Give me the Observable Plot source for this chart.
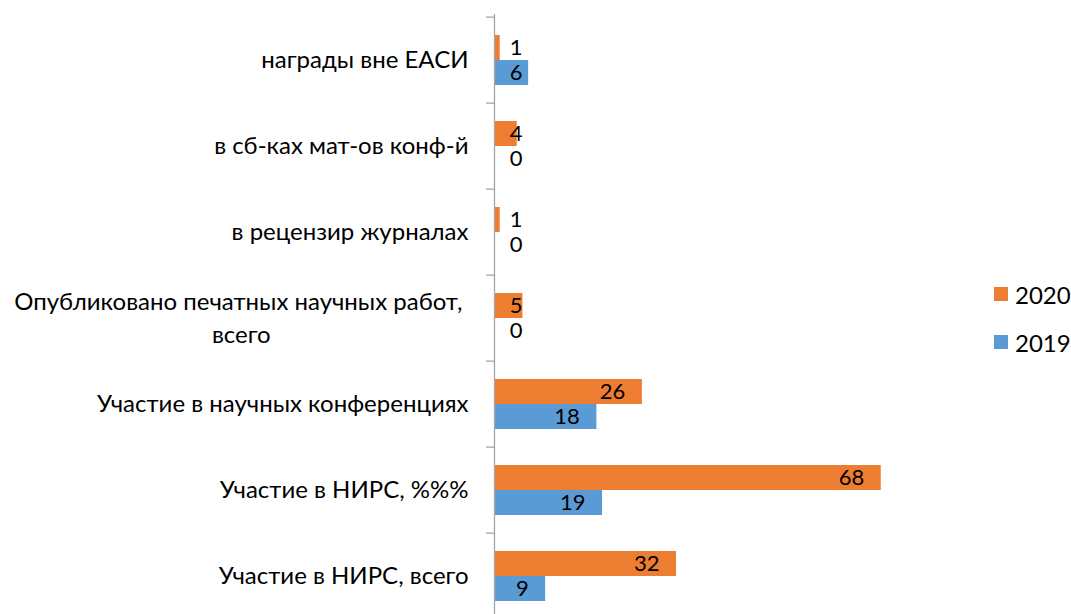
<!DOCTYPE html>
<html>
<head>
<meta charset="utf-8">
<script src="https://cdn.jsdelivr.net/npm/d3@7"></script>
<script src="https://cdn.jsdelivr.net/npm/@observablehq/plot@0.6"></script>
<style>
  html, body { margin: 0; padding: 0; background: #fff; }
  #wrap { position: relative; width: 1071px; height: 614px; overflow: hidden; font-family: Lato, "Open Sans", sans-serif; }
  #legend { position: absolute; left: 994px; top: 278px; font-size: 24px; color: #000; }
  #legend .item { display: flex; align-items: center; height: 32px; margin-bottom: 16px; }
  #legend .sw { width: 14px; height: 14px; margin-right: 7px; }
</style>
</head>
<body>
<div id="wrap">
  <div id="chart"></div>
  <div id="legend"></div>
</div>
<script>
const categories = [
  "награды вне ЕАСИ",
  "в сб-ках мат-ов конф-й",
  "в рецензир журналах",
  "Опубликовано печатных научных работ,\u00A0\nвсего",
  "Участие в научных конференциях",
  "Участие в НИРС, %%%",
  "Участие в НИРС, всего"
];
const values2020 = [1, 4, 1, 5, 26, 68, 32];
const values2019 = [6, 0, 0, 0, 18, 19, 9];
const seriesNames = ["2020", "2019"];
const seriesColors = ["#ED7D31", "#5B9BD5"];

const d2020 = categories.map((c, i) => ({cat: c, v: values2020[i]}));
const d2019 = categories.map((c, i) => ({cat: c, v: values2019[i]}));

const FS = 24;
const VFS = 22;
const yTop = 14, svgH = 621;
const step = (svgH - yTop) / categories.length;
const minLabelX = 7.9;

const chart = Plot.plot({
  width: 1071,
  height: svgH,
  marginTop: yTop,
  marginBottom: 0,
  marginLeft: 494,
  marginRight: 122,
  x: {domain: [0, 80], axis: null},
  y: {domain: categories, paddingInner: 0.423, paddingOuter: 0.2115, axis: null},
  style: {fontFamily: "Lato, 'Open Sans', sans-serif", fontSize: FS + "px", color: "#000", background: "#fff"},
  marks: [
    Plot.barX(d2020, {y: "cat", x: "v", fill: seriesColors[0], insetBottom: 25}),
    Plot.barX(d2019, {y: "cat", x: "v", fill: seriesColors[1], insetTop: 25}),
    Plot.ruleX([0], {stroke: "#A6A6A6", strokeWidth: 1.3}),
    Plot.ruleY(categories, {y: d => d, x1: -1.4, x2: 0, dy: -step / 2, stroke: "#A6A6A6", strokeWidth: 1.3}),
    Plot.axisY({tickSize: 0, tickPadding: 26, fontSize: FS, lineHeight: 1.36, dy: -2.5, label: null, textOverflow: null}),
    Plot.text(d2020, {y: "cat", x: d => Math.max(d.v, minLabelX), text: d => String(d.v), textAnchor: "end", dx: -17, dy: -12.5, fontSize: VFS, fill: "#000"}),
    Plot.text(d2019, {y: "cat", x: d => Math.max(d.v, minLabelX), text: d => String(d.v), textAnchor: "end", dx: -17, dy: 12.5, fontSize: VFS, fill: "#000"})
  ]
});
document.getElementById("chart").appendChild(chart);

// center multi-line category labels (as in the original)
chart.querySelectorAll("text").forEach(t => {
  const spans = t.querySelectorAll("tspan");
  if (spans.length > 1) {
    let w = 0;
    spans.forEach(s => { w = Math.max(w, s.getComputedTextLength()); });
    t.setAttribute("text-anchor", "middle");
    t.setAttribute("xml:space", "preserve");
    t.style.whiteSpace = "pre";
    spans.forEach(s => s.setAttribute("x", -w / 2));
  }
});

const legend = document.getElementById("legend");
seriesNames.forEach((n, i) => {
  const item = document.createElement("div");
  item.className = "item";
  const sw = document.createElement("div");
  sw.className = "sw";
  sw.style.background = seriesColors[i];
  const lab = document.createElement("span");
  lab.textContent = n;
  item.appendChild(sw);
  item.appendChild(lab);
  legend.appendChild(item);
});
</script>
</body>
</html>
